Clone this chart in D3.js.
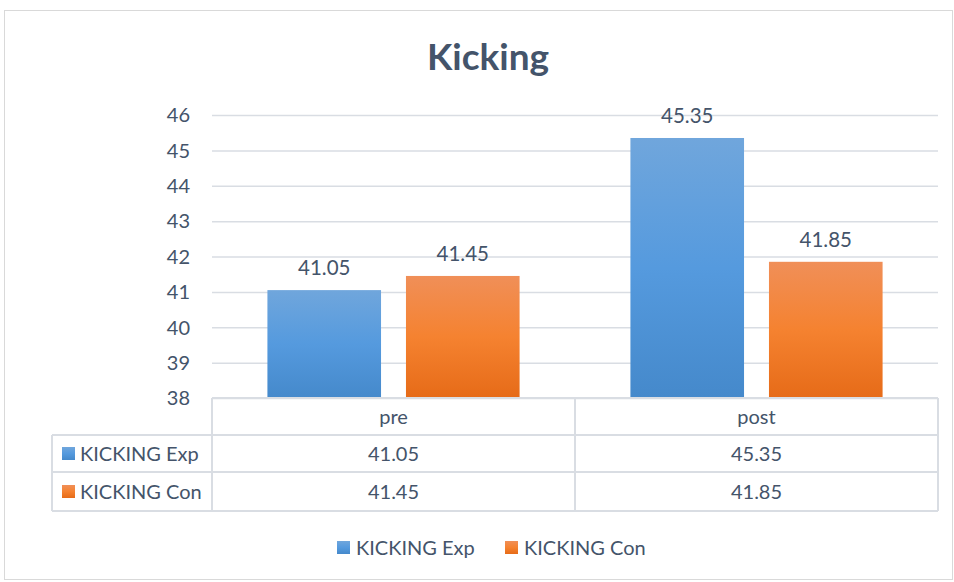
<!DOCTYPE html>
<html><head><meta charset="utf-8">
<script src="https://cdn.jsdelivr.net/npm/d3@7"></script>
<style>body{margin:0;background:#fff}svg{display:block}text{font-family:Lato,"Open Sans",sans-serif;fill:#44546a}</style>
</head><body><svg id="c" width="954" height="582"></svg>
<script>
const categories = ["pre","post"];
const seriesNames = ["KICKING Exp","KICKING Con"];
const expValues = [41.05,45.35];
const conValues = [41.45,41.85];
const yTicks = [38,39,40,41,42,43,44,45,46];
const title = "Kicking";

const series = [
  {name: seriesNames[0], values: expValues, grad: "gBlue", key: "#5b9bd5"},
  {name: seriesNames[1], values: conValues, grad: "gOrange", key: "#ed7d31"}
];

const svg = d3.select("#c");
const defs = svg.append("defs");
function grad(id, c1, c2, c3){
  const g = defs.append("linearGradient").attr("id", id).attr("x1",0).attr("y1",0).attr("x2",0).attr("y2",1);
  g.append("stop").attr("offset","0%").attr("stop-color",c1);
  g.append("stop").attr("offset","50%").attr("stop-color",c2);
  g.append("stop").attr("offset","100%").attr("stop-color",c3);
}
grad("gBlue","#70a6dc","#559ade","#4589cb");
grad("gOrange","#f08f58","#f58230","#e66b18");

svg.append("rect").attr("x",4.5).attr("y",10.5).attr("width",948).attr("height",569)
  .attr("fill","#fff").attr("stroke","#d9d9d9");

const L = 212, R = 938, T = 115, B = 398;
const y = d3.scaleLinear().domain([38,46]).range([B,T]);
const x0 = d3.scaleBand().domain(categories).range([L,R]);
const x1 = d3.scaleBand().domain(seriesNames).range([0,x0.bandwidth()]).paddingInner(0.18).paddingOuter(0.4);

svg.append("text").attr("x",488).attr("y",70).attr("text-anchor","middle")
  .attr("font-size",37).attr("font-weight","bold").text(title);

// grid
const yAxis = d3.axisLeft(y).tickValues(yTicks).tickSize(-(R-L)).tickFormat(d3.format("d"));
const ga = svg.append("g").attr("transform",`translate(${L},0)`).call(yAxis);
ga.select(".domain").remove();
ga.selectAll(".tick line").attr("stroke","#d9dde3").attr("stroke-width",1.5);
ga.selectAll(".tick text").attr("x",-22).attr("font-size",20).attr("fill","#44546a").attr("dy","0.34em");

// bars
const gBars = svg.append("g");
series.forEach(s=>{
  gBars.selectAll(null).data(categories).enter().append("rect")
    .attr("x",c=>x0(c)+x1(s.name))
    .attr("width",x1.bandwidth())
    .attr("y",(c,i)=>y(s.values[i]))
    .attr("height",(c,i)=>B-y(s.values[i]))
    .attr("fill",`url(#${s.grad})`);
  gBars.selectAll(null).data(categories).enter().append("text")
    .attr("x",c=>x0(c)+x1(s.name)+x1.bandwidth()/2)
    .attr("y",(c,i)=>y(s.values[i])-15)
    .attr("text-anchor","middle").attr("font-size",20.5)
    .text((c,i)=>s.values[i].toFixed(2));
});

// data table
const tL = 52, rowY = [398,435,472,511];
const gt = svg.append("g").attr("stroke","#d9dde3").attr("stroke-width",2).attr("fill","none");
gt.append("line").attr("x1",L).attr("x2",R).attr("y1",rowY[0]).attr("y2",rowY[0]);
[1,2,3].forEach(i=>gt.append("line").attr("x1",tL).attr("x2",R).attr("y1",rowY[i]).attr("y2",rowY[i]));
gt.append("line").attr("x1",tL).attr("x2",tL).attr("y1",rowY[1]).attr("y2",rowY[3]);
[L, x0("post"), R].forEach(xx=>gt.append("line").attr("x1",xx).attr("x2",xx).attr("y1",rowY[0]).attr("y2",rowY[3]));

categories.forEach(c=>{
  svg.append("text").attr("x",x0(c)+x0.bandwidth()/2).attr("y",(rowY[0]+rowY[1])/2)
    .attr("dy","0.35em").attr("text-anchor","middle").attr("font-size",20).text(c);
});
series.forEach((s,si)=>{
  const cy = (rowY[si+1]+rowY[si+2])/2;
  svg.append("rect").attr("x",62).attr("y",cy-6.5).attr("width",13).attr("height",13).attr("fill",`url(#${s.grad})`);
  svg.append("text").attr("x",80).attr("y",cy).attr("dy","0.35em").attr("font-size",20).text(s.name);
  categories.forEach((c,i)=>{
    svg.append("text").attr("x",x0(c)+x0.bandwidth()/2).attr("y",cy).attr("dy","0.35em")
      .attr("text-anchor","middle").attr("font-size",20).text(s.values[i].toFixed(2));
  });
});

// legend
const legX = [337,505];
series.forEach((s,i)=>{
  svg.append("rect").attr("x",legX[i]).attr("y",541).attr("width",13).attr("height",13).attr("fill",`url(#${s.grad})`);
  svg.append("text").attr("x",legX[i]+19).attr("y",548).attr("dy","0.35em").attr("font-size",20).text(s.name);
});
</script></body></html>
